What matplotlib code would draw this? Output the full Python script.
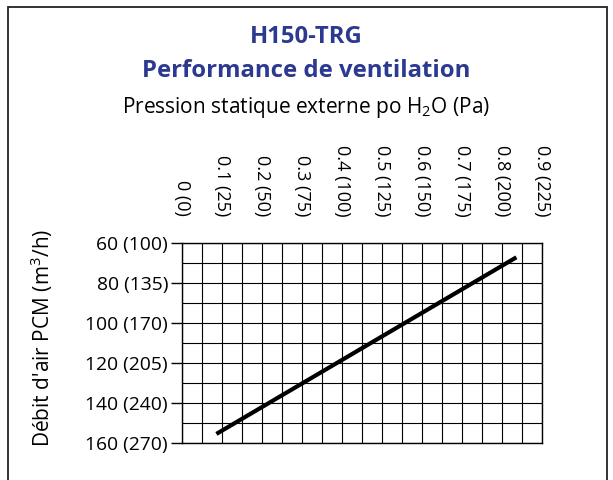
import matplotlib
matplotlib.use("Agg")
import matplotlib.pyplot as plt
from matplotlib.patches import Rectangle

# pressure (in. H2O) vs airflow (CFM)
pressure = [0.086, 0.836]
airflow = [155.6, 67.3]

x_ticks = [0, 0.1, 0.2, 0.3, 0.4, 0.5, 0.6, 0.7, 0.8, 0.9]
x_labels = ["0 (0)", "0.1 (25)", "0.2 (50)", "0.3 (75)", "0.4 (100)",
            "0.5 (125)", "0.6 (150)", "0.7 (175)", "0.8 (200)", "0.9 (225)"]
y_ticks = [60, 80, 100, 120, 140, 160]
y_labels = ["60 (100)", "80 (135)", "100 (170)", "120 (205)", "140 (240)", "160 (270)"]

plt.rcParams['font.family'] = ['Open Sans', 'DejaVu Sans']
blue = '#2b3990'

fig = plt.figure(figsize=(6.13, 4.8), dpi=100)
ax = fig.add_axes([182 / 613, 1 - 442.7 / 480, 360 / 613, 200 / 480])

ax.plot(pressure, airflow, color='black', lw=3, solid_capstyle='butt')

ax.set_xlim(0, 0.9)
ax.set_ylim(160, 60)
ax.set_xticks(x_ticks)
ax.set_xticklabels(x_labels, rotation=270, fontsize=13)
ax.set_xticks([0.05 + 0.1 * i for i in range(9)], minor=True)
ax.set_yticks(y_ticks)
ax.set_yticklabels(y_labels, fontsize=13.9)
ax.set_yticks([70, 90, 110, 130, 150], minor=True)
ax.xaxis.tick_top()
ax.tick_params(axis='x', which='both', length=0, pad=19)
ax.tick_params(axis='y', which='major', length=8, width=1, color='black', pad=2)
ax.tick_params(axis='y', which='minor', length=0)
ax.grid(True, which='both', color='black', lw=0.8)
for s in ax.spines.values():
    s.set_linewidth(1)
ax.set_axisbelow(True)

fig.text(0.5, 1 - 43.3 / 480, "H150-TRG", ha='center', va='baseline',
         fontsize=17.2, fontweight='bold', color=blue)
fig.text(0.5, 1 - 77 / 480, "Performance de ventilation", ha='center', va='baseline',
         fontsize=17.2, fontweight='bold', color=blue)
fig.text(0.5, 1 - 113.3 / 480, r"Pression statique externe po H$_\mathregular{2}$O (Pa)",
         ha='center', va='baseline', fontsize=15)
fig.text(42 / 613, 1 - 338 / 480, r"Débit d'air PCM (m$^\mathregular{3}$/h)",
         ha='center', va='center', rotation=90, fontsize=15)

fig.patches.append(Rectangle((8 / 613, -0.05), 599 / 613, 0.05 + 1 - 7 / 480,
                             transform=fig.transFigure, fill=False,
                             edgecolor='#222222', lw=1.3))

fig.savefig('out.png', dpi=100)
